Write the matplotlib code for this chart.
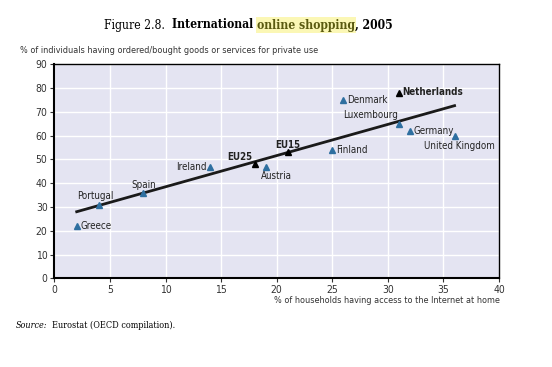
import matplotlib
matplotlib.use("Agg")
import matplotlib.pyplot as plt

# datos
paises = ["Greece", "Portugal", "Spain", "Ireland", "EU25", "Austria", "EU15",
          "Finland", "Denmark", "Luxembourg", "Netherlands", "Germany", "United Kingdom"]
acceso_hogar = [2, 4, 8, 14, 18, 19, 21, 25, 26, 31, 31, 32, 36]
compras_online = [22, 31, 36, 47, 48, 47, 53, 54, 75, 65, 78, 62, 60]
negrita = ["EU25", "EU15", "Netherlands"]

tendencia_x = [2, 36]
tendencia_y = [28, 72.6]

# posicion de las etiquetas (pixeles respecto al punto)
etiquetas = {
    "Greece": ((4, 0), "left"),
    "Portugal": ((-4, 9), "center"),
    "Spain": ((0, 8), "center"),
    "Ireland": ((-3, 0), "right"),
    "EU25": ((-2, 7), "right"),
    "Austria": ((-5, -9), "left"),
    "EU15": ((0, 7), "center"),
    "Finland": ((4, 0), "left"),
    "Denmark": ((4, 0), "left"),
    "Luxembourg": ((-1, 9), "right"),
    "Netherlands": ((3, 1), "left"),
    "Germany": ((3, 0), "left"),
    "United Kingdom": ((5, -10), "center"),
}

plt.rcParams["font.family"] = ["DejaVu Sans"]
plt.rcParams["font.stretch"] = "condensed"

fig = plt.figure(figsize=(5.52, 3.67), dpi=100)
ax = fig.add_axes([0.0987, 0.2417, 0.8053, 0.5831])
ax.set_facecolor("#e4e4f2")

ax.set_xlim(0, 40)
ax.set_ylim(0, 90)
ax.set_xticks(range(0, 41, 5))
ax.set_yticks(range(0, 91, 10))
ax.grid(True, color="white", linewidth=1)
ax.set_axisbelow(True)
for s in ax.spines.values():
    s.set_color("black")
    s.set_linewidth(1)
ax.spines["left"].set_linewidth(1.5)
ax.spines["bottom"].set_linewidth(1.5)
ax.tick_params(length=3, width=0.8, labelsize=7.5, colors="#333333", pad=2)

ax.plot(tendencia_x, tendencia_y, color="#1a1a1a", linewidth=2, zorder=3)

for p, x, y in zip(paises, acceso_hogar, compras_online):
    col = "black" if p in negrita else "#2e6fa0"
    ax.plot(x, y, marker="^", color=col, markersize=4.8, linestyle="none", zorder=4)
    (dx, dy), ha = etiquetas[p]
    ax.annotate(p, (x, y), xytext=(dx, dy), textcoords="offset pixels",
                ha=ha, va="center", fontsize=7, color="#222222",
                fontweight="bold" if p in negrita else "normal", zorder=5)

fig.text(0.036, 0.862, "% of individuals having ordered/bought goods or services for private use",
         fontsize=6.5, color="#333333", va="center")
fig.text(0.905, 0.181, "% of households having access to the Internet at home",
         fontsize=6.5, color="#333333", va="center", ha="right")

# titulo con partes de distinto formato
r = fig.canvas.get_renderer()
tx = 104 / 552
ty = 1 - 25 / 367
partes = [("Figure 2.8.  ", "normal", None),
          ("International ", "bold", None),
          ("online shopping", "bold", "#fbf7b5"),
          (", 2005", "bold", None)]
for txt, peso, fondo in partes:
    t = fig.text(tx, ty, txt, fontsize=8.7, fontweight=peso, family="DejaVu Serif",
                 stretch="condensed", va="center", color="#5a5a10" if fondo else "black")
    if fondo:
        t.set_bbox(dict(facecolor=fondo, edgecolor="none", pad=1))
    bb = t.get_window_extent(renderer=r)
    tx += bb.width / fig.bbox.width

sx = 16 / 552
sy = 1 - 325 / 367
t = fig.text(sx, sy, "Source:", fontsize=6.5, style="italic", family="DejaVu Serif",
             stretch="condensed", va="center")
bb = t.get_window_extent(renderer=r)
fig.text(sx + bb.width / fig.bbox.width + 0.008, sy, "Eurostat (OECD compilation).",
         fontsize=6.5, family="DejaVu Serif", stretch="condensed", va="center")

fig.savefig("out.png", dpi=100)
